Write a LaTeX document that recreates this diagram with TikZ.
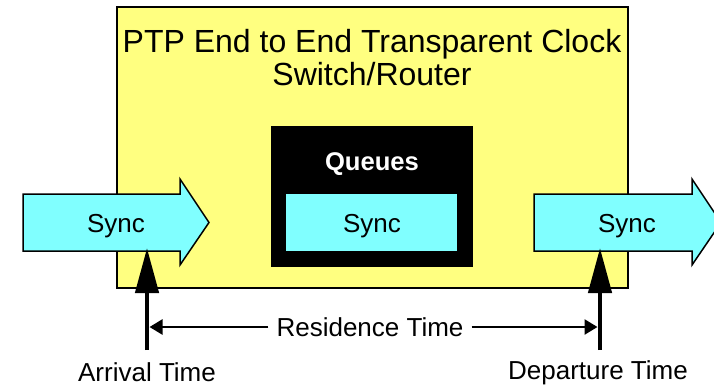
\documentclass[tikz,border=0pt]{standalone}
\usepackage{fontspec}
\setmainfont{Liberation Sans}
\usetikzlibrary{arrows.meta}
\definecolor{boxyellow}{HTML}{FFFF80}
\definecolor{synccyan}{HTML}{80FFFF}

\tikzset{
  panel/.style={draw=black, line width=2pt, fill=boxyellow, inner sep=0pt, anchor=north west},
  queuebox/.style={draw=black, fill=black, inner sep=0pt, anchor=north west},
  syncbox/.style={fill=synccyan, inner sep=0pt, anchor=north west},
  bigarrow/.style={draw=black, line width=1.5pt, fill=synccyan, line join=miter},
  labeltext/.style={font=\fontsize{26}{30}\selectfont, inner sep=0pt},
  timeline/.style={line width=4.5pt, -{Triangle[length=45pt,width=23pt]}},
  spanline/.style={line width=2.5pt, -{Triangle[length=13pt,width=15pt]}}
}

\begin{document}
\begin{tikzpicture}[x=1pt,y=-1pt]
\useasboundingbox (0,0) rectangle (714,386);
\clip (0,0) rectangle (714,386);

% switch/router body
\node[panel, minimum width=511pt, minimum height=281pt] (switch) at (116,6) {};
\node[align=center, font=\fontsize{32}{33}\selectfont, inner sep=0pt] (title) at (372,58)
  {PTP End to End Transparent Clock\\Switch/Router};

% queue block
\node[queuebox, minimum width=201pt, minimum height=140pt] (queues) at (271,126) {};
\node[labeltext, text=white, font=\fontsize{25.6}{30}\selectfont\bfseries] (qlabel) at (372,164) {Queues};
\node[syncbox, minimum width=171pt, minimum height=57pt] (qsync) at (286,194) {};
\node[labeltext] (qsynctext) at (372,226) {Sync};

% incoming and outgoing Sync messages
\draw[bigarrow] (23,194) -- (180,194) -- (180,179) -- (209,222.5) -- (180,265)
  -- (180,251) -- (23,251) -- cycle;
\node[labeltext] (insync) at (116,226) {Sync};
\draw[bigarrow] (534,194) -- (692,194) -- (692,179) -- (721,222.5) -- (692,265)
  -- (692,251) -- (534,251) -- cycle;
\node[labeltext] (outsync) at (627,226) {Sync};

% timestamp points
\coordinate (arrbase) at (147,350);
\coordinate (arrtip) at (147,248);
\coordinate (depbase) at (600,350);
\coordinate (deptip) at (600,248);
\draw[timeline] (arrbase) -- (arrtip);
\draw[timeline] (depbase) -- (deptip);
\node[labeltext] (arrival) at (147,372.5) {Arrival Time};
\node[labeltext] (departure) at (598,373) {Departure Time};

% residence time span
\node[labeltext, inner xsep=8pt] (residence) at (370,327) {Residence Time};
\coordinate (resleft) at (149.5,327);
\coordinate (resright) at (597.5,327);
\draw[spanline] (residence.west) -- (resleft);
\draw[spanline] (residence.east) -- (resright);
\end{tikzpicture}
\end{document}
